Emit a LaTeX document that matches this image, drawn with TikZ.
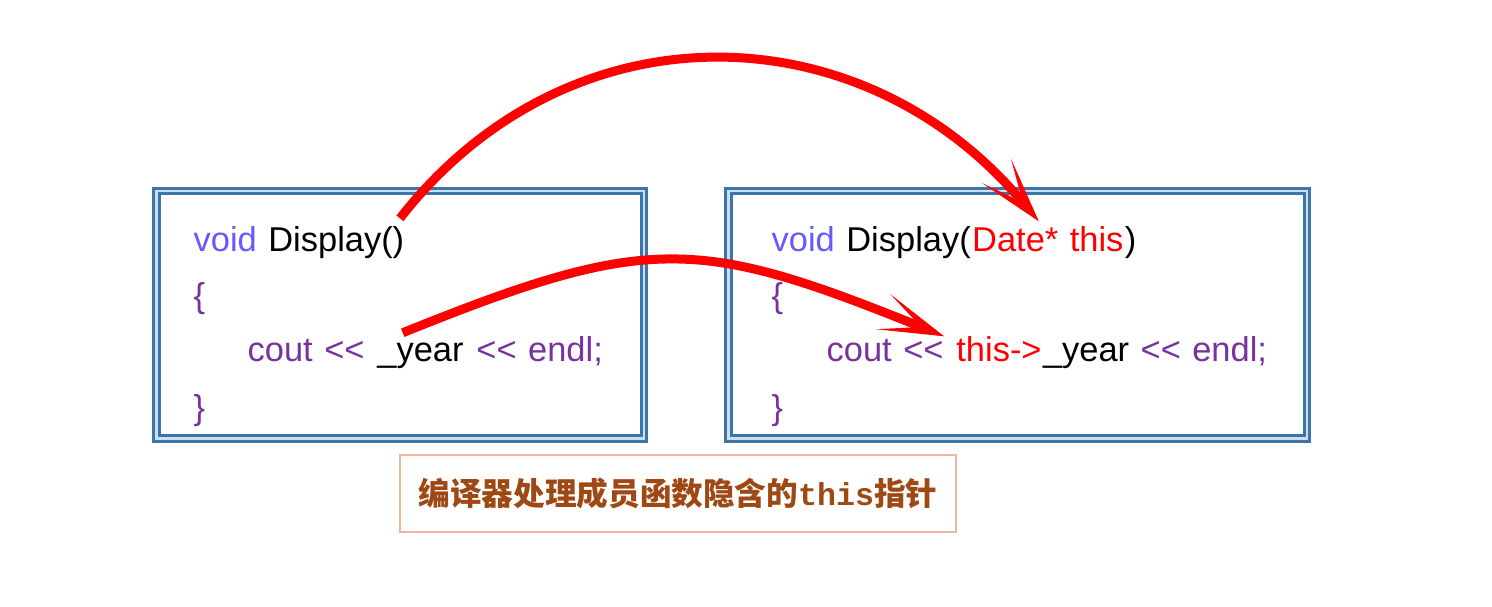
\documentclass[tikz,border=0pt]{standalone}
\usepackage{fontspec}
\usetikzlibrary{arrows.meta,positioning}
\newfontfamily\codefont[WordSpace=1.2]{Liberation Sans}
\newfontfamily\cjkfont{Noto Sans CJK SC}
\newfontfamily\notemono{Liberation Mono}
\definecolor{kwblue}{RGB}{102,90,255}
\definecolor{stmpurple}{RGB}{120,50,160}
\definecolor{ptrred}{RGB}{255,0,0}
\definecolor{framedark}{RGB}{58,118,170}
\definecolor{framelight}{RGB}{205,222,238}
\definecolor{notebrown}{RGB}{158,72,20}
\definecolor{noteedge}{RGB}{243,180,156}

\begin{document}
\begin{tikzpicture}[
    code/.style={inner sep=0pt, anchor=base west, font=\codefont\fontsize{9.8pt}{12pt}\selectfont},
    frame/.style={draw=framedark, line width=0.3mm, double=framelight, double distance=0.25mm, inner sep=0pt},
    note/.style={draw=noteedge, line width=0.25mm, inner sep=0pt, minimum width=5.56cm,
      minimum height=0.77cm, text=notebrown, font=\cjkfont\bfseries\fontsize{9pt}{11pt}\selectfont},
    jump/.style={draw=ptrred, line width=0.9mm,
      -{Stealth[length=6.6mm,width=3.8mm,inset=4.1mm,line width=0pt]}}]

\useasboundingbox (0,0) rectangle (14.92,-6.07);

% frames
\node[frame, minimum width=4.875cm, minimum height=2.475cm] (lframe) at (4.00,-3.15) {};
\node[frame, minimum width=5.785cm, minimum height=2.475cm] (rframe) at (10.175,-3.15) {};

% left code
\node[code] (lsig) at (1.93,-2.52) {\color{kwblue}void \color{black}Display()};
\node[code, text=stmpurple] (lopen) at (1.93,-3.08) {\{};
\node[code, text=stmpurple] (lcout) at (2.47,-3.62) {cout~<{}<};
\node[code] (lyear) at (lcout.base east) {~\_year};
\node[code, text=stmpurple] (lendl) at (lyear.base east) {~<{}<~endl;};
\node[code, text=stmpurple] (lclose) at (1.93,-4.20) {\}};

% right code
\node[code] (rsig) at (7.71,-2.52) {\color{kwblue}void \color{black}Display(};
\node[code, text=ptrred] (rthis) at (rsig.base east) {Date*~this};
\node[code] (rparen) at (rthis.base east) {)};
\node[code, text=stmpurple] (ropen) at (7.71,-3.08) {\{};
\node[code, text=stmpurple] (rcout) at (8.26,-3.62) {cout~<{}<};
\node[code, text=ptrred] (rptr) at (rcout.base east) {~this->};
\node[code] (ryear) at (rptr.base east) {\_year\textcolor{stmpurple}{~<{}<~endl;}};
\node[code, text=stmpurple] (rclose) at (7.71,-4.20) {\}};

% note
\node[note] (hint) at (6.78,-4.935) {编译器处理成员函数隐含的{\notemono this}指针};

% arrows
\draw[jump] ([shift={(-0.05,0.08)}]lsig.north east) to[out=52,in=130,looseness=1.1] ([shift={(-0.09,0.05)}]rthis.north);
\draw[jump] ([shift={(-0.12,0.10)}]lyear.north) to[out=22,in=158,looseness=1.25] ([shift={(0.0,0.0)}]rptr.north west);
\end{tikzpicture}
\end{document}
